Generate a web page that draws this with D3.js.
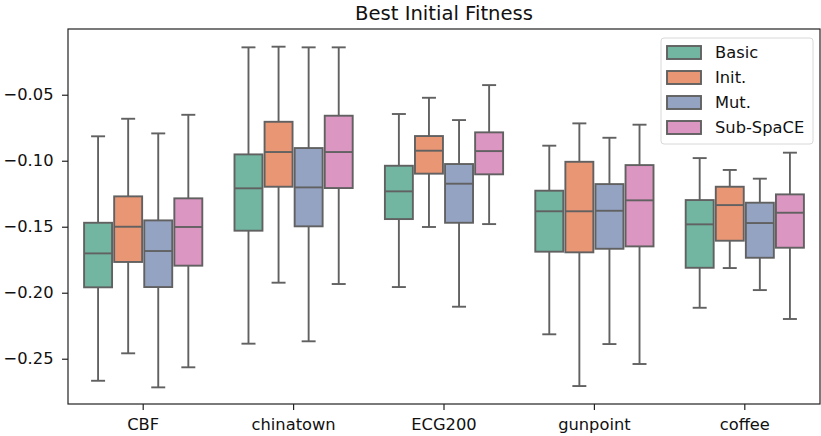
<!DOCTYPE html>
<html>
<head>
<meta charset="utf-8">
<script src="https://cdn.jsdelivr.net/npm/d3@7"></script>
<style>
  html, body { margin: 0; padding: 0; background: #fff; }
  svg { display: block; font-family: "DejaVu Sans", sans-serif; }
</style>
</head>
<body>
<svg id="chart" width="821" height="436"></svg>
<script>
const categories = ["CBF", "chinatown", "ECG200", "gunpoint", "coffee"];
const methods = ["Basic", "Init.", "Mut.", "Sub-SpaCE"];
const colors = ["#72b6a1", "#e99675", "#95a3c3", "#db96c1"];
const yTicks = [-0.25, -0.20, -0.15, -0.10, -0.05];
// [whiskerLow, Q1, median, Q3, whiskerHigh] per category, per method
const basicStats = [
  [-0.2667, -0.1959, -0.1702, -0.1470, -0.0815],
  [-0.2386, -0.1530, -0.1209, -0.0952, -0.0141],
  [-0.1957, -0.1442, -0.1232, -0.1038, -0.0646],
  [-0.2315, -0.1689, -0.1383, -0.1227, -0.0886],
  [-0.2114, -0.1811, -0.1482, -0.1298, -0.0980]
];
const initStats = [
  [-0.2459, -0.1767, -0.1500, -0.1270, -0.0682],
  [-0.1924, -0.1197, -0.0934, -0.0705, -0.0136],
  [-0.1502, -0.1098, -0.0924, -0.0813, -0.0523],
  [-0.2707, -0.1694, -0.1383, -0.1008, -0.0717],
  [-0.1813, -0.1606, -0.1336, -0.1197, -0.1070]
];
const mutStats = [
  [-0.2717, -0.1957, -0.1684, -0.1452, -0.0793],
  [-0.2368, -0.1497, -0.1202, -0.0904, -0.0141],
  [-0.2106, -0.1470, -0.1174, -0.1025, -0.0692],
  [-0.2389, -0.1667, -0.1379, -0.1177, -0.0826],
  [-0.1980, -0.1735, -0.1472, -0.1318, -0.1136]
];
const subStats = [
  [-0.2565, -0.1795, -0.1502, -0.1285, -0.0652],
  [-0.1934, -0.1207, -0.0934, -0.0659, -0.0141],
  [-0.1480, -0.1103, -0.0927, -0.0785, -0.0427],
  [-0.2540, -0.1649, -0.1300, -0.1033, -0.0727],
  [-0.2199, -0.1659, -0.1394, -0.1255, -0.0939]
];
const allStats = [basicStats, initStats, mutStats, subStats];

const W = 821, H = 436;
const margin = { left: 68, right: 1, top: 29, bottom: 32 };
const svg = d3.select("#chart");
const lineColor = "#616161";
const lw = 1.9;
const tickFont = 16.3;

const x = d3.scaleBand().domain(categories).range([margin.left, W - margin.right]).paddingInner(0).paddingOuter(0);
const xSub = d3.scaleBand().domain(methods).range([0.1 * x.bandwidth(), 0.9 * x.bandwidth()]);
const y = d3.scaleLinear().domain([-0.2843, -0.0002]).range([H - margin.bottom, margin.top]);

const rows = [];
categories.forEach((c, ci) => {
  methods.forEach((m, mi) => {
    const s = allStats[mi][ci];
    rows.push({ c, m, mi, lo: s[0], q1: s[1], med: s[2], q3: s[3], hi: s[4] });
  });
});

const boxW = xSub.bandwidth() * 0.93;
const capW = boxW * 0.5;
const g = svg.append("g");
rows.forEach(d => {
  const cx = x(d.c) + xSub(d.m) + xSub.bandwidth() / 2;
  const ln = (x1, x2, y1, y2) => g.append("line").attr("x1", x1).attr("x2", x2).attr("y1", y1).attr("y2", y2)
    .attr("stroke", lineColor).attr("stroke-width", lw);
  ln(cx, cx, y(d.q3), y(d.hi));
  ln(cx, cx, y(d.q1), y(d.lo));
  ln(cx - capW / 2, cx + capW / 2, y(d.hi), y(d.hi));
  ln(cx - capW / 2, cx + capW / 2, y(d.lo), y(d.lo));
  g.append("rect").attr("x", cx - boxW / 2).attr("width", boxW)
    .attr("y", y(d.q3)).attr("height", y(d.q1) - y(d.q3))
    .attr("fill", colors[d.mi]).attr("stroke", lineColor).attr("stroke-width", lw);
  ln(cx - boxW / 2, cx + boxW / 2, y(d.med), y(d.med));
});

// axes
const xAxis = d3.axisBottom(x).tickSize(6).tickPadding(8);
const yAxis = d3.axisLeft(y).tickValues(yTicks).tickSize(6).tickPadding(8.5)
  .tickFormat(d => d3.format(".2f")(d).replace("-", "\u2212"));

const gx = svg.append("g").attr("transform", `translate(0,${H - margin.bottom})`).call(xAxis);
const gy = svg.append("g").attr("transform", `translate(${margin.left},0)`).call(yAxis);
[gx, gy].forEach(a => {
  a.select(".domain").remove();
  a.selectAll("line").attr("stroke", "#222").attr("stroke-width", 1.2);
  a.selectAll("text").attr("font-family", "DejaVu Sans").attr("font-size", tickFont).attr("fill", "#111");
});

// frame
svg.append("rect").attr("x", margin.left).attr("y", margin.top)
  .attr("width", W - margin.right - margin.left).attr("height", H - margin.bottom - margin.top)
  .attr("fill", "none").attr("stroke", "#222").attr("stroke-width", 1.2);

// title
svg.append("text").attr("x", (margin.left + W - margin.right) / 2).attr("y", 20)
  .attr("text-anchor", "middle").attr("font-size", 19.6).attr("fill", "#111").text("Best Initial Fitness");

// legend
const lg = svg.append("g").attr("transform", "translate(661,38)");
lg.append("rect").attr("x", 0).attr("y", 0).attr("width", 152).attr("height", 106).attr("rx", 3)
  .attr("fill", "#fff").attr("fill-opacity", 0.8).attr("stroke", "#d8d8d8").attr("stroke-width", 1);
methods.forEach((m, i) => {
  const ry = 8 + i * 25;
  lg.append("rect").attr("x", 6).attr("y", ry).attr("width", 34).attr("height", 13)
    .attr("fill", colors[i]).attr("stroke", lineColor).attr("stroke-width", lw);
  lg.append("text").attr("x", 54).attr("y", ry + 6.5).attr("dy", "0.35em")
    .attr("font-size", tickFont).attr("fill", "#111").text(m);
});
</script>
</body>
</html>
